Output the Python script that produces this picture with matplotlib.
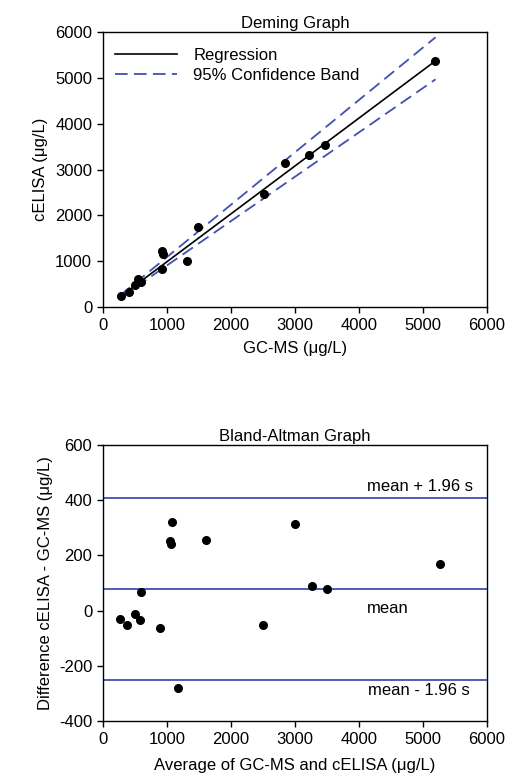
import numpy as np
import matplotlib
matplotlib.use("Agg")
import matplotlib.pyplot as plt

plt.rcParams['font.family'] = ['Liberation Sans', 'DejaVu Sans']
plt.rcParams['font.size'] = 12
plt.rcParams['axes.unicode_minus'] = False

# Deming data (GC-MS vs cELISA, ug/L)
gcms = [276, 396, 495, 547, 589, 911, 911, 927, 1307, 1479, 2516, 2844, 3214, 3464, 5193]
celisa = [233, 327, 473, 604, 538, 836, 1222, 1156, 1011, 1738, 2473, 3149, 3309, 3542, 5367]

# regression line and confidence band ends
reg_x = [265, 5200]
reg_y = [225, 5372]
band_x = [265, 5200]
band_hi = [255, 5885]
band_lo = [200, 4968]

# Bland-Altman data
ba_avg = [260, 375, 495, 573, 583, 885, 1042, 1052, 1078, 1167, 1615, 2495, 3000, 3271, 3500, 5266]
ba_diff = [-30, -51, -12, -34, 68, -64, 253, 240, 320, -281, 256, -53, 313, 90, 79, 170]
ba_mean = 78
ba_upper = 409
ba_lower = -250

blue = '#4050b0'
W, H = 507, 783
fig = plt.figure(figsize=(W / 100, H / 100), dpi=100)

ax1 = fig.add_axes([103.3 / W, 1 - 307 / H, 383.4 / W, 275 / H])
ax2 = fig.add_axes([103.3 / W, 1 - 721 / H, 383.4 / W, 276 / H])

for ax in (ax1, ax2):
    for s in ax.spines.values():
        s.set_linewidth(1.0)
    ax.tick_params(direction='out', length=4, width=1, labelsize=12, pad=4)
    ax.set_xlim(0, 6000)
    ax.set_xticks(np.arange(0, 6001, 1000))

# --- Deming graph ---
ax1.plot(reg_x, reg_y, color='black', lw=1.2, label='Regression')
ax1.plot(band_x, band_hi, color=blue, lw=1.3, dashes=(7, 3.5), label='95% Confidence Band')
ax1.plot(band_x, band_lo, color=blue, lw=1.3, dashes=(7, 3.5))
ax1.plot(gcms, celisa, 'o', color='black', markersize=5.5, zorder=5)
ax1.set_ylim(0, 6000)
ax1.set_yticks(np.arange(0, 6001, 1000))
ax1.set_title('Deming Graph', fontsize=12, pad=3)
ax1.set_xlabel('GC-MS (μg/L)', fontsize=12, labelpad=6)
ax1.set_ylabel('cELISA (μg/L)', fontsize=12, labelpad=5)
ax1.legend(loc='upper left', bbox_to_anchor=(0.0, 0.985), frameon=False, fontsize=12,
           handlelength=3.7, handletextpad=1.0, borderaxespad=0.3, labelspacing=0.3)

# --- Bland-Altman graph ---
for v in (ba_upper, ba_mean, ba_lower):
    ax2.axhline(v, color=blue, lw=1.3)
ax2.plot(ba_avg, ba_diff, 'o', color='black', markersize=5.5, zorder=5)
ax2.set_ylim(-400, 600)
ax2.set_yticks(np.arange(-400, 601, 200))
ax2.text(4120, 450, 'mean + 1.96 s', fontsize=12, va='center', ha='left')
ax2.text(4120, 6, 'mean', fontsize=12, va='center', ha='left')
ax2.text(4140, -288, 'mean - 1.96 s', fontsize=12, va='center', ha='left')
ax2.set_title('Bland-Altman Graph', fontsize=12, pad=3)
ax2.set_xlabel('Average of GC-MS and cELISA (μg/L)', fontsize=12, labelpad=8)
ax2.set_ylabel('Difference cELISA - GC-MS (μg/L)', fontsize=12, labelpad=4)

fig.savefig('out.png', dpi=100)
